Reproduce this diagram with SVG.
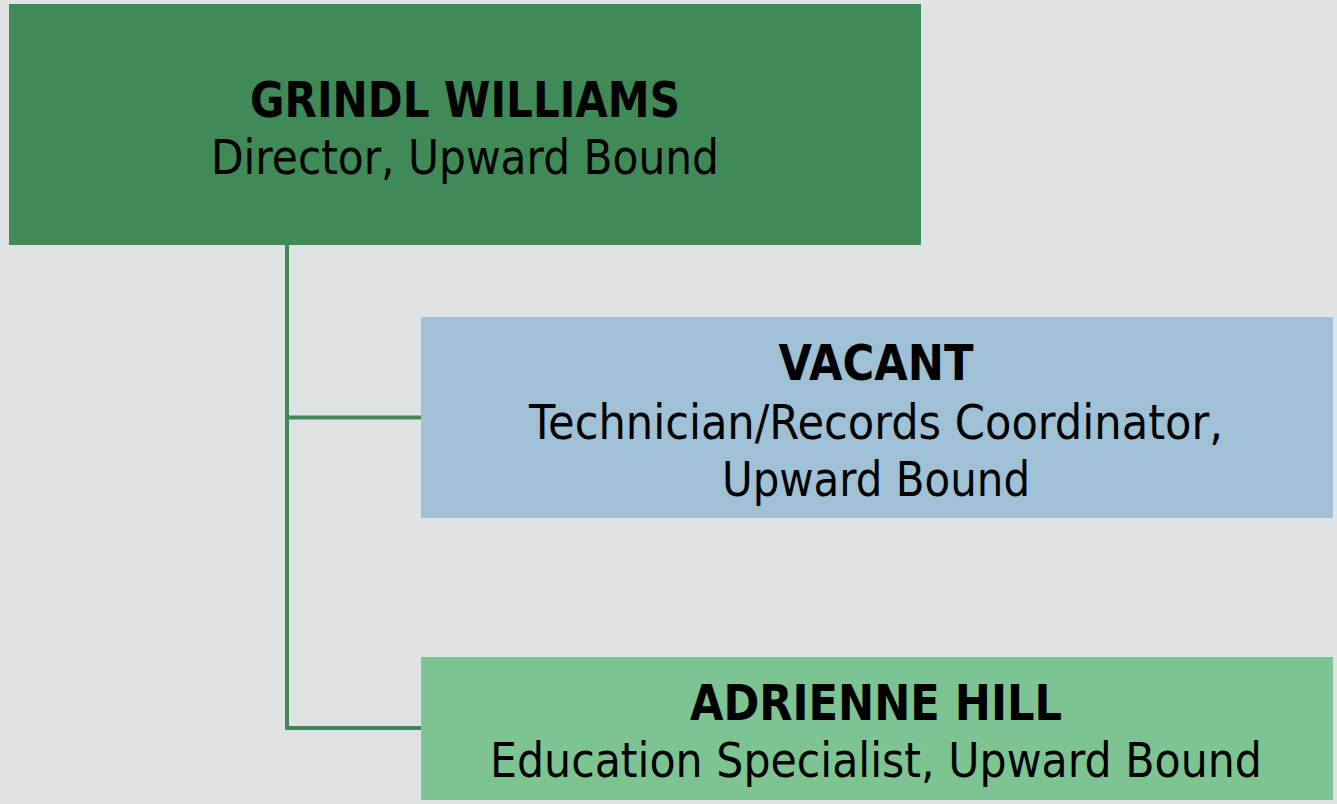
<svg xmlns="http://www.w3.org/2000/svg" width="1337" height="804" viewBox="0 0 1337 804">
<style>
.t{font-family:"DejaVu Sans","Liberation Sans",sans-serif;fill:#000;text-anchor:middle}
.b{font-weight:bold;font-size:50px}
.r{font-size:48px}
.c{stroke:#3f8a56;stroke-width:4;fill:none}
</style>
<rect x="0" y="0" width="1337" height="804" fill="#dfe3e6"/>
<g id="connectors">
<path class="c" d="M287 245 V728 H421"/>
<path class="c" d="M287 417.5 H421"/>
</g>
<g id="node-grindl">
<rect x="9" y="4" width="912" height="241" fill="#3f8a56"/>
<text class="t b" x="465" y="117" textLength="430" lengthAdjust="spacingAndGlyphs">GRINDL WILLIAMS</text>
<text class="t r" x="465" y="174" textLength="508" lengthAdjust="spacingAndGlyphs">Director, Upward Bound</text>
</g>
<g id="node-vacant">
<rect x="421" y="317" width="912" height="201" fill="#a0c0d6"/>
<text class="t b" x="876" y="380" textLength="195" lengthAdjust="spacingAndGlyphs">VACANT</text>
<text class="t r" x="876" y="439" textLength="694" lengthAdjust="spacingAndGlyphs">Technician/Records Coordinator,</text>
<text class="t r" x="876" y="496" textLength="308" lengthAdjust="spacingAndGlyphs">Upward Bound</text>
</g>
<g id="node-adrienne">
<rect x="421" y="657" width="912" height="143" fill="#7dc492"/>
<text class="t b" x="876" y="720" textLength="372" lengthAdjust="spacingAndGlyphs">ADRIENNE HILL</text>
<text class="t r" x="876" y="777" textLength="772" lengthAdjust="spacingAndGlyphs">Education Specialist, Upward Bound</text>
</g>
</svg>
